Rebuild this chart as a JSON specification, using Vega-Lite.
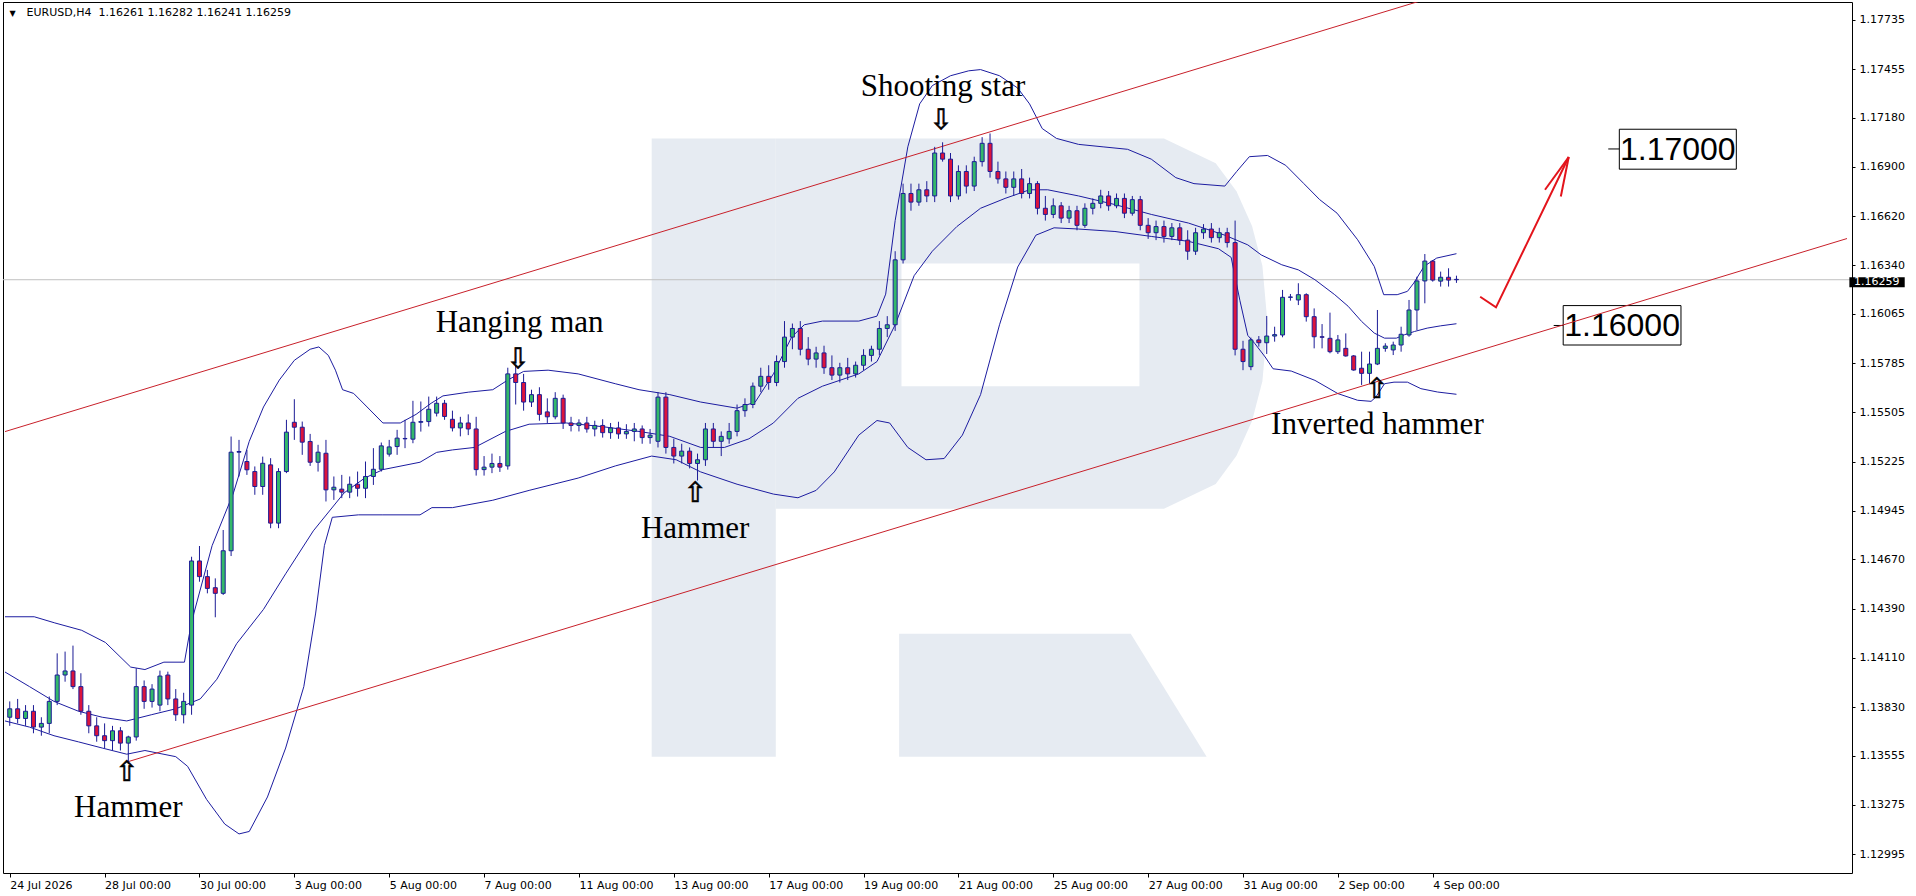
{
"$schema":"https://vega.github.io/schema/vega-lite/v6.json",
"width":1849,"height":871,
"autosize":{"type":"none"},
"padding":{"left":3,"top":2,"right":64,"bottom":23},
"background":"white",
"config":{"view":{"stroke":"#000000","strokeWidth":1},"axis":{"labelFont":"DejaVu Sans","labelFontSize":11,"labelColor":"#000000","tickColor":"#000000","domain":false,"grid":false,"title":null}},
"datasets":{
"ohlc":[
{"i":0,"o":1.13773,"h":1.13863,"l":1.13724,"c":1.13821},
{"i":1,"o":1.13821,"h":1.13877,"l":1.13738,"c":1.13766},
{"i":2,"o":1.13766,"h":1.13842,"l":1.13724,"c":1.13807},
{"i":3,"o":1.13807,"h":1.13842,"l":1.13682,"c":1.13717},
{"i":4,"o":1.13717,"h":1.13773,"l":1.13668,"c":1.13738},
{"i":5,"o":1.13738,"h":1.13891,"l":1.13682,"c":1.13863},
{"i":6,"o":1.13863,"h":1.14136,"l":1.13842,"c":1.14013},
{"i":7,"o":1.14013,"h":1.14146,"l":1.13975,"c":1.14036},
{"i":8,"o":1.14036,"h":1.14180,"l":1.13933,"c":1.13947},
{"i":9,"o":1.13947,"h":1.14023,"l":1.13787,"c":1.13807},
{"i":10,"o":1.13807,"h":1.13842,"l":1.13682,"c":1.13724},
{"i":11,"o":1.13724,"h":1.13773,"l":1.13634,"c":1.13668},
{"i":12,"o":1.13668,"h":1.13738,"l":1.13598,"c":1.13640},
{"i":13,"o":1.13640,"h":1.13724,"l":1.13584,"c":1.13696},
{"i":14,"o":1.13696,"h":1.13717,"l":1.13584,"c":1.13626},
{"i":15,"o":1.13626,"h":1.13668,"l":1.13508,"c":1.13661},
{"i":16,"o":1.13661,"h":1.14051,"l":1.13640,"c":1.13947},
{"i":17,"o":1.13947,"h":1.13982,"l":1.13821,"c":1.13863},
{"i":18,"o":1.13863,"h":1.13961,"l":1.13828,"c":1.13933},
{"i":19,"o":1.13842,"h":1.14038,"l":1.13807,"c":1.14007},
{"i":20,"o":1.14013,"h":1.14032,"l":1.13842,"c":1.13877},
{"i":21,"o":1.13877,"h":1.13933,"l":1.13752,"c":1.13787},
{"i":22,"o":1.13787,"h":1.13912,"l":1.13738,"c":1.13863},
{"i":23,"o":1.13842,"h":1.14685,"l":1.13787,"c":1.14661},
{"i":24,"o":1.14661,"h":1.14746,"l":1.14543,"c":1.14572},
{"i":25,"o":1.14572,"h":1.14610,"l":1.14477,"c":1.14505},
{"i":26,"o":1.14509,"h":1.14562,"l":1.14341,"c":1.14477},
{"i":27,"o":1.14477,"h":1.14837,"l":1.14468,"c":1.14719},
{"i":28,"o":1.14719,"h":1.15368,"l":1.14689,"c":1.15279},
{"i":29,"o":1.15279,"h":1.15349,"l":1.15141,"c":1.15283},
{"i":30,"o":1.15226,"h":1.15292,"l":1.15150,"c":1.15179},
{"i":31,"o":1.15169,"h":1.15198,"l":1.15037,"c":1.15084},
{"i":32,"o":1.15084,"h":1.15254,"l":1.15037,"c":1.15216},
{"i":33,"o":1.15207,"h":1.15245,"l":1.14847,"c":1.14876},
{"i":34,"o":1.14876,"h":1.15188,"l":1.14847,"c":1.15169},
{"i":35,"o":1.15169,"h":1.15463,"l":1.15160,"c":1.15393},
{"i":36,"o":1.15449,"h":1.15580,"l":1.15349,"c":1.15421},
{"i":37,"o":1.15421,"h":1.15453,"l":1.15264,"c":1.15336},
{"i":38,"o":1.15340,"h":1.15383,"l":1.15201,"c":1.15222},
{"i":39,"o":1.15222,"h":1.15321,"l":1.15169,"c":1.15279},
{"i":40,"o":1.15273,"h":1.15349,"l":1.14999,"c":1.15065},
{"i":41,"o":1.15065,"h":1.15141,"l":1.15008,"c":1.15080},
{"i":42,"o":1.15069,"h":1.15150,"l":1.15018,"c":1.15052},
{"i":43,"o":1.15052,"h":1.15141,"l":1.15018,"c":1.15097},
{"i":44,"o":1.15097,"h":1.15169,"l":1.15027,"c":1.15074},
{"i":45,"o":1.15074,"h":1.15226,"l":1.15018,"c":1.15141},
{"i":46,"o":1.15141,"h":1.15302,"l":1.15093,"c":1.15182},
{"i":47,"o":1.15182,"h":1.15334,"l":1.15169,"c":1.15315},
{"i":48,"o":1.15268,"h":1.15349,"l":1.15254,"c":1.15309},
{"i":49,"o":1.15311,"h":1.15406,"l":1.15264,"c":1.15359},
{"i":50,"o":1.15355,"h":1.15463,"l":1.15302,"c":1.15357},
{"i":51,"o":1.15353,"h":1.15571,"l":1.15330,"c":1.15449},
{"i":52,"o":1.15449,"h":1.15567,"l":1.15396,"c":1.15453},
{"i":53,"o":1.15453,"h":1.15595,"l":1.15425,"c":1.15523},
{"i":54,"o":1.15501,"h":1.15595,"l":1.15482,"c":1.15557},
{"i":55,"o":1.15557,"h":1.15576,"l":1.15463,"c":1.15482},
{"i":56,"o":1.15466,"h":1.15515,"l":1.15397,"c":1.15417},
{"i":57,"o":1.15417,"h":1.15480,"l":1.15369,"c":1.15445},
{"i":58,"o":1.15445,"h":1.15494,"l":1.15376,"c":1.15411},
{"i":59,"o":1.15411,"h":1.15480,"l":1.15146,"c":1.15180},
{"i":60,"o":1.15180,"h":1.15257,"l":1.15146,"c":1.15194},
{"i":61,"o":1.15194,"h":1.15271,"l":1.15160,"c":1.15215},
{"i":62,"o":1.15215,"h":1.15257,"l":1.15167,"c":1.15194},
{"i":63,"o":1.15201,"h":1.15759,"l":1.15180,"c":1.15724},
{"i":64,"o":1.15724,"h":1.15773,"l":1.15550,"c":1.15675},
{"i":65,"o":1.15675,"h":1.15724,"l":1.15515,"c":1.15564},
{"i":66,"o":1.15564,"h":1.15634,"l":1.15536,"c":1.15606},
{"i":67,"o":1.15606,"h":1.15648,"l":1.15458,"c":1.15494},
{"i":68,"o":1.15508,"h":1.15585,"l":1.15445,"c":1.15480},
{"i":69,"o":1.15480,"h":1.15620,"l":1.15466,"c":1.15585},
{"i":70,"o":1.15585,"h":1.15606,"l":1.15411,"c":1.15445},
{"i":71,"o":1.15445,"h":1.15480,"l":1.15397,"c":1.15431},
{"i":72,"o":1.15431,"h":1.15466,"l":1.15397,"c":1.15445},
{"i":73,"o":1.15445,"h":1.15480,"l":1.15390,"c":1.15411},
{"i":74,"o":1.15411,"h":1.15458,"l":1.15369,"c":1.15431},
{"i":75,"o":1.15431,"h":1.15466,"l":1.15362,"c":1.15390},
{"i":76,"o":1.15390,"h":1.15445,"l":1.15355,"c":1.15417},
{"i":77,"o":1.15417,"h":1.15452,"l":1.15355,"c":1.15383},
{"i":78,"o":1.15383,"h":1.15438,"l":1.15355,"c":1.15397},
{"i":79,"o":1.15397,"h":1.15445,"l":1.15341,"c":1.15411},
{"i":80,"o":1.15411,"h":1.15431,"l":1.15327,"c":1.15362},
{"i":81,"o":1.15362,"h":1.15411,"l":1.15327,"c":1.15376},
{"i":82,"o":1.15341,"h":1.15620,"l":1.15306,"c":1.15592},
{"i":83,"o":1.15592,"h":1.15620,"l":1.15271,"c":1.15306},
{"i":84,"o":1.15306,"h":1.15355,"l":1.15215,"c":1.15257},
{"i":85,"o":1.15257,"h":1.15327,"l":1.15215,"c":1.15285},
{"i":86,"o":1.15285,"h":1.15306,"l":1.15187,"c":1.15215},
{"i":87,"o":1.15215,"h":1.15271,"l":1.15118,"c":1.15236},
{"i":88,"o":1.15236,"h":1.15445,"l":1.15201,"c":1.15411},
{"i":89,"o":1.15411,"h":1.15445,"l":1.15306,"c":1.15341},
{"i":90,"o":1.15341,"h":1.15397,"l":1.15257,"c":1.15369},
{"i":91,"o":1.15355,"h":1.15445,"l":1.15327,"c":1.15397},
{"i":92,"o":1.15397,"h":1.15550,"l":1.15369,"c":1.15515},
{"i":93,"o":1.15515,"h":1.15585,"l":1.15480,"c":1.15550},
{"i":94,"o":1.15550,"h":1.15675,"l":1.15529,"c":1.15654},
{"i":95,"o":1.15654,"h":1.15759,"l":1.15620,"c":1.15710},
{"i":96,"o":1.15710,"h":1.15773,"l":1.15634,"c":1.15675},
{"i":97,"o":1.15675,"h":1.15829,"l":1.15654,"c":1.15794},
{"i":98,"o":1.15794,"h":1.16024,"l":1.15759,"c":1.15933},
{"i":99,"o":1.15933,"h":1.16010,"l":1.15864,"c":1.15982},
{"i":100,"o":1.15982,"h":1.16024,"l":1.15829,"c":1.15864},
{"i":101,"o":1.15864,"h":1.15933,"l":1.15773,"c":1.15808},
{"i":102,"o":1.15808,"h":1.15878,"l":1.15759,"c":1.15843},
{"i":103,"o":1.15843,"h":1.15884,"l":1.15724,"c":1.15759},
{"i":104,"o":1.15759,"h":1.15829,"l":1.15689,"c":1.15717},
{"i":105,"o":1.15717,"h":1.15787,"l":1.15675,"c":1.15759},
{"i":106,"o":1.15759,"h":1.15815,"l":1.15689,"c":1.15724},
{"i":107,"o":1.15724,"h":1.15794,"l":1.15703,"c":1.15773},
{"i":108,"o":1.15773,"h":1.15864,"l":1.15745,"c":1.15829},
{"i":109,"o":1.15829,"h":1.15884,"l":1.15794,"c":1.15864},
{"i":110,"o":1.15864,"h":1.16024,"l":1.15829,"c":1.15982},
{"i":111,"o":1.15982,"h":1.16052,"l":1.15933,"c":1.16003},
{"i":112,"o":1.16003,"h":1.16421,"l":1.15968,"c":1.16372},
{"i":113,"o":1.16372,"h":1.16805,"l":1.16351,"c":1.16749},
{"i":114,"o":1.16749,"h":1.16805,"l":1.16651,"c":1.16700},
{"i":115,"o":1.16700,"h":1.16805,"l":1.16679,"c":1.16770},
{"i":116,"o":1.16770,"h":1.16819,"l":1.16700,"c":1.16735},
{"i":117,"o":1.16735,"h":1.17014,"l":1.16700,"c":1.16979},
{"i":118,"o":1.16979,"h":1.17040,"l":1.16930,"c":1.16944},
{"i":119,"o":1.16944,"h":1.16979,"l":1.16700,"c":1.16735},
{"i":120,"o":1.16735,"h":1.16909,"l":1.16714,"c":1.16874},
{"i":121,"o":1.16874,"h":1.16909,"l":1.16749,"c":1.16791},
{"i":122,"o":1.16791,"h":1.16958,"l":1.16763,"c":1.16930},
{"i":123,"o":1.16930,"h":1.17069,"l":1.16902,"c":1.17034},
{"i":124,"o":1.17034,"h":1.17090,"l":1.16839,"c":1.16874},
{"i":125,"o":1.16874,"h":1.16930,"l":1.16805,"c":1.16832},
{"i":126,"o":1.16832,"h":1.16874,"l":1.16749,"c":1.16784},
{"i":127,"o":1.16784,"h":1.16874,"l":1.16735,"c":1.16832},
{"i":128,"o":1.16832,"h":1.16888,"l":1.16721,"c":1.16749},
{"i":129,"o":1.16749,"h":1.16839,"l":1.16721,"c":1.16805},
{"i":130,"o":1.16805,"h":1.16819,"l":1.16630,"c":1.16665},
{"i":131,"o":1.16665,"h":1.16735,"l":1.16595,"c":1.16630},
{"i":132,"o":1.16630,"h":1.16721,"l":1.16609,"c":1.16679},
{"i":133,"o":1.16679,"h":1.16700,"l":1.16581,"c":1.16609},
{"i":134,"o":1.16609,"h":1.16679,"l":1.16581,"c":1.16651},
{"i":135,"o":1.16651,"h":1.16679,"l":1.16540,"c":1.16568},
{"i":136,"o":1.16568,"h":1.16693,"l":1.16554,"c":1.16665},
{"i":137,"o":1.16665,"h":1.16721,"l":1.16630,"c":1.16693},
{"i":138,"o":1.16693,"h":1.16770,"l":1.16665,"c":1.16735},
{"i":139,"o":1.16735,"h":1.16763,"l":1.16651,"c":1.16679},
{"i":140,"o":1.16679,"h":1.16749,"l":1.16665,"c":1.16721},
{"i":141,"o":1.16721,"h":1.16749,"l":1.16609,"c":1.16637},
{"i":142,"o":1.16637,"h":1.16735,"l":1.16623,"c":1.16714},
{"i":143,"o":1.16714,"h":1.16735,"l":1.16540,"c":1.16568},
{"i":144,"o":1.16568,"h":1.16609,"l":1.16491,"c":1.16526},
{"i":145,"o":1.16526,"h":1.16595,"l":1.16484,"c":1.16561},
{"i":146,"o":1.16561,"h":1.16595,"l":1.16470,"c":1.16505},
{"i":147,"o":1.16505,"h":1.16581,"l":1.16484,"c":1.16554},
{"i":148,"o":1.16554,"h":1.16581,"l":1.16456,"c":1.16484},
{"i":149,"o":1.16484,"h":1.16540,"l":1.16372,"c":1.16421},
{"i":150,"o":1.16421,"h":1.16554,"l":1.16400,"c":1.16526},
{"i":151,"o":1.16526,"h":1.16575,"l":1.16491,"c":1.16547},
{"i":152,"o":1.16547,"h":1.16581,"l":1.16470,"c":1.16498},
{"i":153,"o":1.16498,"h":1.16554,"l":1.16470,"c":1.16526},
{"i":154,"o":1.16526,"h":1.16554,"l":1.16442,"c":1.16470},
{"i":155,"o":1.16470,"h":1.16595,"l":1.15829,"c":1.15864},
{"i":156,"o":1.15864,"h":1.15912,"l":1.15745,"c":1.15794},
{"i":157,"o":1.15765,"h":1.15930,"l":1.15745,"c":1.15917},
{"i":158,"o":1.15917,"h":1.15939,"l":1.15879,"c":1.15901},
{"i":159,"o":1.15901,"h":1.16053,"l":1.15837,"c":1.15939},
{"i":160,"o":1.15939,"h":1.15992,"l":1.15907,"c":1.15947},
{"i":161,"o":1.15945,"h":1.16201,"l":1.15932,"c":1.16159},
{"i":162,"o":1.16159,"h":1.16178,"l":1.16140,"c":1.16161},
{"i":163,"o":1.16144,"h":1.16239,"l":1.16115,"c":1.16174},
{"i":164,"o":1.16174,"h":1.16182,"l":1.16021,"c":1.16049},
{"i":165,"o":1.16049,"h":1.16096,"l":1.15869,"c":1.15935},
{"i":166,"o":1.15935,"h":1.16007,"l":1.15869,"c":1.15932},
{"i":167,"o":1.15926,"h":1.16072,"l":1.15841,"c":1.15850},
{"i":168,"o":1.15850,"h":1.15945,"l":1.15837,"c":1.15917},
{"i":169,"o":1.15869,"h":1.15954,"l":1.15822,"c":1.15826},
{"i":170,"o":1.15826,"h":1.15831,"l":1.15742,"c":1.15746},
{"i":171,"o":1.15756,"h":1.15850,"l":1.15661,"c":1.15727},
{"i":172,"o":1.15727,"h":1.15850,"l":1.15670,"c":1.15780},
{"i":173,"o":1.15780,"h":1.16087,"l":1.15774,"c":1.15869},
{"i":174,"o":1.15869,"h":1.15898,"l":1.15850,"c":1.15882},
{"i":175,"o":1.15860,"h":1.15907,"l":1.15831,"c":1.15888},
{"i":176,"o":1.15888,"h":1.15992,"l":1.15850,"c":1.15949},
{"i":177,"o":1.15945,"h":1.16144,"l":1.15935,"c":1.16087},
{"i":178,"o":1.16087,"h":1.16276,"l":1.15973,"c":1.16252},
{"i":179,"o":1.16252,"h":1.16405,"l":1.16125,"c":1.16365},
{"i":180,"o":1.16365,"h":1.16371,"l":1.16248,"c":1.16257},
{"i":181,"o":1.16251,"h":1.16305,"l":1.16220,"c":1.16273},
{"i":182,"o":1.16273,"h":1.16324,"l":1.16220,"c":1.16257},
{"i":183,"o":1.16261,"h":1.16282,"l":1.16241,"c":1.16259}
],
"bb":[
{"b":"u","i":-0.6,"p":1.14344},{"b":"u","i":3.1,"p":1.14344},{"b":"u","i":5.7,"p":1.14309},{"b":"u","i":9.1,"p":1.14267},{"b":"u","i":12.1,"p":1.14198},{"b":"u","i":15.3,"p":1.14058},{"b":"u","i":17.1,"p":1.14044},{"b":"u","i":19.5,"p":1.14086},{"b":"u","i":22.1,"p":1.14086},{"b":"u","i":22.7,"p":1.14240},{"b":"u","i":23.3,"p":1.14365},{"b":"u","i":25.6,"p":1.14748},{"b":"u","i":28.3,"p":1.15048},{"b":"u","i":30.3,"p":1.15341},{"b":"u","i":32.1,"p":1.15536},{"b":"u","i":34.1,"p":1.15689},{"b":"u","i":36.0,"p":1.15801},{"b":"u","i":38.0,"p":1.15864},{"b":"u","i":39.1,"p":1.15877},{"b":"u","i":40.3,"p":1.15829},{"b":"u","i":41.2,"p":1.15745},{"b":"u","i":42.1,"p":1.15634},{"b":"u","i":43.5,"p":1.15613},{"b":"u","i":45.2,"p":1.15536},{"b":"u","i":47.2,"p":1.15445},{"b":"u","i":49.4,"p":1.15445},{"b":"u","i":51.4,"p":1.15494},{"b":"u","i":53.3,"p":1.15557},{"b":"u","i":54.8,"p":1.15599},{"b":"u","i":58.0,"p":1.15620},{"b":"u","i":61.1,"p":1.15634},{"b":"u","i":63.0,"p":1.15689},{"b":"u","i":65.0,"p":1.15738},{"b":"u","i":68.1,"p":1.15745},{"b":"u","i":71.9,"p":1.15724},{"b":"u","i":76.6,"p":1.15668},{"b":"u","i":79.6,"p":1.15634},{"b":"u","i":83.5,"p":1.15606},{"b":"u","i":87.4,"p":1.15564},{"b":"u","i":92.0,"p":1.15529},{"b":"u","i":94.3,"p":1.15564},{"b":"u","i":96.6,"p":1.15724},{"b":"u","i":98.9,"p":1.15933},{"b":"u","i":100.5,"p":1.16003},{"b":"u","i":102.8,"p":1.16024},{"b":"u","i":107.4,"p":1.16024},{"b":"u","i":109.7,"p":1.16052},{"b":"u","i":110.8,"p":1.16177},{"b":"u","i":112.0,"p":1.16595},{"b":"u","i":113.6,"p":1.17014},{"b":"u","i":115.1,"p":1.17258},{"b":"u","i":116.7,"p":1.17362},{"b":"u","i":119.0,"p":1.17418},{"b":"u","i":121.3,"p":1.17446},{"b":"u","i":122.8,"p":1.17453},{"b":"u","i":125.2,"p":1.17418},{"b":"u","i":127.5,"p":1.17348},{"b":"u","i":129.0,"p":1.17258},{"b":"u","i":130.6,"p":1.17118},{"b":"u","i":132.4,"p":1.17062},{"b":"u","i":135.2,"p":1.17028},{"b":"u","i":138.3,"p":1.17014},{"b":"u","i":141.4,"p":1.17000},{"b":"u","i":144.4,"p":1.16944},{"b":"u","i":147.5,"p":1.16839},{"b":"u","i":149.8,"p":1.16805},{"b":"u","i":153.7,"p":1.16791},{"b":"u","i":155.2,"p":1.16874},{"b":"u","i":156.8,"p":1.16958},{"b":"u","i":159.1,"p":1.16965},{"b":"u","i":161.4,"p":1.16909},{"b":"u","i":163.7,"p":1.16805},{"b":"u","i":165.7,"p":1.16714},{"b":"u","i":167.9,"p":1.16637},{"b":"u","i":170.5,"p":1.16486},{"b":"u","i":172.6,"p":1.16335},{"b":"u","i":173.8,"p":1.16174},{"b":"u","i":175.5,"p":1.16174},{"b":"u","i":176.8,"p":1.16193},{"b":"u","i":177.6,"p":1.16240},{"b":"u","i":178.9,"p":1.16335},{"b":"u","i":180.5,"p":1.16382},{"b":"u","i":183.0,"p":1.16407},
{"b":"m","i":-0.6,"p":1.14030},{"b":"m","i":2.5,"p":1.13947},{"b":"m","i":5.6,"p":1.13863},{"b":"m","i":8.7,"p":1.13807},{"b":"m","i":11.7,"p":1.13773},{"b":"m","i":14.8,"p":1.13752},{"b":"m","i":17.9,"p":1.13787},{"b":"m","i":21.0,"p":1.13821},{"b":"m","i":24.1,"p":1.13877},{"b":"m","i":26.2,"p":1.13989},{"b":"m","i":28.7,"p":1.14191},{"b":"m","i":32.1,"p":1.14386},{"b":"m","i":34.9,"p":1.14588},{"b":"m","i":38.4,"p":1.14832},{"b":"m","i":42.3,"p":1.15048},{"b":"m","i":44.9,"p":1.15132},{"b":"m","i":47.2,"p":1.15180},{"b":"m","i":51.9,"p":1.15222},{"b":"m","i":54.0,"p":1.15278},{"b":"m","i":56.0,"p":1.15292},{"b":"m","i":58.8,"p":1.15306},{"b":"m","i":62.7,"p":1.15397},{"b":"m","i":65.7,"p":1.15438},{"b":"m","i":70.4,"p":1.15445},{"b":"m","i":75.0,"p":1.15424},{"b":"m","i":79.6,"p":1.15397},{"b":"m","i":83.5,"p":1.15369},{"b":"m","i":87.4,"p":1.15306},{"b":"m","i":90.4,"p":1.15306},{"b":"m","i":93.5,"p":1.15355},{"b":"m","i":96.6,"p":1.15445},{"b":"m","i":99.7,"p":1.15585},{"b":"m","i":102.8,"p":1.15654},{"b":"m","i":107.4,"p":1.15724},{"b":"m","i":109.7,"p":1.15794},{"b":"m","i":112.0,"p":1.16003},{"b":"m","i":114.4,"p":1.16282},{"b":"m","i":116.7,"p":1.16421},{"b":"m","i":119.8,"p":1.16561},{"b":"m","i":122.8,"p":1.16665},{"b":"m","i":125.9,"p":1.16721},{"b":"m","i":129.0,"p":1.16770},{"b":"m","i":131.3,"p":1.16770},{"b":"m","i":135.2,"p":1.16735},{"b":"m","i":139.8,"p":1.16686},{"b":"m","i":144.4,"p":1.16630},{"b":"m","i":149.1,"p":1.16581},{"b":"m","i":153.7,"p":1.16512},{"b":"m","i":156.6,"p":1.16457},{"b":"m","i":158.3,"p":1.16400},{"b":"m","i":160.9,"p":1.16344},{"b":"m","i":163.0,"p":1.16315},{"b":"m","i":165.1,"p":1.16259},{"b":"m","i":167.6,"p":1.16174},{"b":"m","i":169.3,"p":1.16108},{"b":"m","i":171.0,"p":1.16022},{"b":"m","i":172.6,"p":1.15956},{"b":"m","i":173.9,"p":1.15927},{"b":"m","i":175.4,"p":1.15927},{"b":"m","i":176.4,"p":1.15946},{"b":"m","i":177.7,"p":1.15965},{"b":"m","i":179.3,"p":1.15984},{"b":"m","i":181.0,"p":1.15997},{"b":"m","i":183.0,"p":1.16009},
{"b":"l","i":-0.6,"p":1.13752},{"b":"l","i":2.5,"p":1.13717},{"b":"l","i":5.6,"p":1.13668},{"b":"l","i":8.7,"p":1.13633},{"b":"l","i":11.7,"p":1.13598},{"b":"l","i":14.8,"p":1.13563},{"b":"l","i":17.1,"p":1.13584},{"b":"l","i":21.0,"p":1.13549},{"b":"l","i":22.5,"p":1.13494},{"b":"l","i":24.9,"p":1.13306},{"b":"l","i":27.2,"p":1.13166},{"b":"l","i":29.0,"p":1.13110},{"b":"l","i":30.3,"p":1.13124},{"b":"l","i":32.6,"p":1.13320},{"b":"l","i":34.9,"p":1.13598},{"b":"l","i":37.2,"p":1.13947},{"b":"l","i":38.7,"p":1.14365},{"b":"l","i":39.8,"p":1.14748},{"b":"l","i":40.8,"p":1.14909},{"b":"l","i":44.1,"p":1.14923},{"b":"l","i":47.2,"p":1.14923},{"b":"l","i":51.9,"p":1.14923},{"b":"l","i":53.4,"p":1.14964},{"b":"l","i":56.0,"p":1.14964},{"b":"l","i":61.1,"p":1.15006},{"b":"l","i":65.7,"p":1.15062},{"b":"l","i":71.9,"p":1.15132},{"b":"l","i":76.6,"p":1.15201},{"b":"l","i":81.2,"p":1.15257},{"b":"l","i":84.3,"p":1.15236},{"b":"l","i":87.4,"p":1.15167},{"b":"l","i":92.0,"p":1.15097},{"b":"l","i":96.6,"p":1.15041},{"b":"l","i":99.7,"p":1.15020},{"b":"l","i":102.0,"p":1.15062},{"b":"l","i":104.3,"p":1.15167},{"b":"l","i":107.4,"p":1.15376},{"b":"l","i":109.7,"p":1.15459},{"b":"l","i":111.3,"p":1.15445},{"b":"l","i":113.6,"p":1.15306},{"b":"l","i":115.9,"p":1.15236},{"b":"l","i":118.2,"p":1.15243},{"b":"l","i":120.5,"p":1.15376},{"b":"l","i":122.8,"p":1.15606},{"b":"l","i":125.2,"p":1.16003},{"b":"l","i":127.5,"p":1.16331},{"b":"l","i":129.8,"p":1.16512},{"b":"l","i":132.1,"p":1.16554},{"b":"l","i":135.2,"p":1.16547},{"b":"l","i":139.8,"p":1.16533},{"b":"l","i":144.4,"p":1.16505},{"b":"l","i":149.1,"p":1.16477},{"b":"l","i":152.9,"p":1.16435},{"b":"l","i":154.5,"p":1.16386},{"b":"l","i":155.6,"p":1.16142},{"b":"l","i":156.6,"p":1.15943},{"b":"l","i":157.5,"p":1.15896},{"b":"l","i":158.8,"p":1.15820},{"b":"l","i":159.8,"p":1.15753},{"b":"l","i":162.1,"p":1.15740},{"b":"l","i":165.1,"p":1.15687},{"b":"l","i":168.0,"p":1.15612},{"b":"l","i":170.5,"p":1.15574},{"b":"l","i":172.2,"p":1.15568},{"b":"l","i":172.8,"p":1.15592},{"b":"l","i":173.9,"p":1.15668},{"b":"l","i":175.1,"p":1.15677},{"b":"l","i":176.8,"p":1.15677},{"b":"l","i":178.5,"p":1.15640},{"b":"l","i":180.6,"p":1.15621},{"b":"l","i":183.0,"p":1.15608}
]
},
"layer":[
{"data":{"values":[{"x1":81.2,"x2":96.9,"y1":1.13549,"y2":1.17062}]},
 "mark":{"type":"rect","color":"#e6ebf2"},
 "encoding":{
  "x":{"field":"x1","type":"quantitative","title":null,"scale":{"domain":[-0.22,232.4],"nice":false,"zero":false},
   "axis":{"orient":"bottom","values":[0,12,24,36,48,60,72,84,96,108,120,132,144,156,168,180],
    "labelExpr":"['24 Jul 2026','28 Jul 00:00','30 Jul 00:00','3 Aug 00:00','5 Aug 00:00','7 Aug 00:00','11 Aug 00:00','13 Aug 00:00','17 Aug 00:00','19 Aug 00:00','21 Aug 00:00','25 Aug 00:00','27 Aug 00:00','31 Aug 00:00','2 Sep 00:00','4 Sep 00:00'][round(datum.value/12)]",
    "tickSize":4,"labelPadding":2,"labelAlign":"left","labelDx":1,"labelBaseline":"top","labelFlush":false,"labelOverlap":false,"domain":false,"grid":false}},
  "x2":{"field":"x2"},
  "y":{"field":"y1","type":"quantitative","title":null,"scale":{"domain":[1.12888,1.17837],"nice":false,"zero":false},
   "axis":{"orient":"right","values":[1.12995,1.13275,1.13555,1.1383,1.1411,1.1439,1.1467,1.14945,1.15225,1.15505,1.15785,1.16065,1.1634,1.1662,1.169,1.1718,1.17455,1.17735],
    "format":".5f","tickSize":3,"labelPadding":4,"labelOverlap":false,"labelBound":false,"labelFlush":false,"labelBaseline":"middle","domain":false,"grid":false}},
  "y2":{"field":"y2"}}},
{"data":{"values":[
  {"x":96.9,"t":1.17062,"b":1.14958},{"x":146.0,"t":1.17062,"b":1.14958},{"x":152.55,"t":1.16921,"b":1.15099},
  {"x":155.17,"t":1.16761,"b":1.15259},{"x":157.14,"t":1.16564,"b":1.15456},{"x":158.45,"t":1.16338,"b":1.15682},{"x":159.1,"t":1.1601,"b":1.1601}]},
 "mark":{"type":"area","color":"#e6ebf2","orient":"vertical"},
 "encoding":{"x":{"field":"x","type":"quantitative","title":null},"y":{"field":"t","type":"quantitative","title":null},"y2":{"field":"b"}}},
{"data":{"values":[{"x1":112.8,"x2":142.9,"y1":1.15654,"y2":1.16351}]},
 "mark":{"type":"rect","color":"#ffffff"},
 "encoding":{"x":{"field":"x1","type":"quantitative","title":null},"x2":{"field":"x2"},"y":{"field":"y1","type":"quantitative","title":null},"y2":{"field":"y2"}}},
{"data":{"values":[{"y":1.14247,"x1":112.5,"x2":141.8},{"y":1.13549,"x1":112.5,"x2":151.4}]},
 "mark":{"type":"area","color":"#e6ebf2","orient":"horizontal"},
 "encoding":{"y":{"field":"y","type":"quantitative","title":null},"x":{"field":"x1","type":"quantitative","title":null},"x2":{"field":"x2"}}},
{"data":{"values":[{"p":1.16259}]},
 "mark":{"type":"rule","color":"#c0c0c0","strokeWidth":1},
 "encoding":{"y":{"field":"p","type":"quantitative","title":null}}},
{"data":{"name":"bb"},
 "mark":{"type":"line","color":"#1c1ca0","strokeWidth":1,"clip":true},
 "encoding":{"x":{"field":"i","type":"quantitative","title":null},"y":{"field":"p","type":"quantitative","title":null},"detail":{"field":"b"}}},
{"data":{"values":[{"x1":203.6,"x2":218.4,"y1":1.16887,"y2":1.17114},{"x1":196.5,"x2":211.4,"y1":1.15888,"y2":1.16112}]},
 "mark":{"type":"rect","fill":"#ffffff","stroke":"#000000","strokeWidth":1},
 "encoding":{"x":{"field":"x1","type":"quantitative","title":null},"x2":{"field":"x2"},"y":{"field":"y1","type":"quantitative","title":null},"y2":{"field":"y2"}}},
{"data":{"values":[{"i":211.0,"p":1.17,"t":"1.17000"},{"i":203.95,"p":1.16,"t":"1.16000"}]},
 "mark":{"type":"text","font":"Liberation Sans","fontSize":32,"align":"center","baseline":"middle","color":"#000000","dy":1},
 "encoding":{"x":{"field":"i","type":"quantitative","title":null},"y":{"field":"p","type":"quantitative","title":null},"text":{"field":"t"}}},
{"data":{"values":[{"x1":202.2,"x2":203.6,"p":1.17002},{"x1":195.3,"x2":196.5,"p":1.15999}]},
 "mark":{"type":"rule","color":"#000000","strokeWidth":1},
 "encoding":{"x":{"field":"x1","type":"quantitative","title":null},"x2":{"field":"x2"},"y":{"field":"p","type":"quantitative","title":null}}},
{"data":{"values":[{"t":"a","i":-0.6,"p":1.15396},{"t":"a","i":232.4,"p":1.18581},{"t":"b","i":15,"p":1.13521},{"t":"b","i":232.4,"p":1.16493}]},
 "mark":{"type":"line","color":"#c8202a","strokeWidth":1,"clip":true},
 "encoding":{"x":{"field":"i","type":"quantitative","title":null},"y":{"field":"p","type":"quantitative","title":null},"detail":{"field":"t"}}},
{"data":{"name":"ohlc"},
 "mark":{"type":"rule","color":"#1c1c96","strokeWidth":1},
 "encoding":{"x":{"field":"i","type":"quantitative","title":null},"y":{"field":"l","type":"quantitative","title":null},"y2":{"field":"h"}}},
{"data":{"name":"ohlc"},
 "mark":{"type":"bar","size":4,"stroke":"#1c1c96","strokeWidth":1},
 "encoding":{"x":{"field":"i","type":"quantitative","title":null},"y":{"field":"o","type":"quantitative","title":null},"y2":{"field":"c"},
  "fill":{"condition":{"test":"datum.c >= datum.o","value":"#34b86a"},"value":"#dc143c"}}},
{"data":{"values":[{"i":118.05,"p":1.17305,"t":"Shooting star"},{"i":64.5,"p":1.15960,"t":"Hanging man"},{"i":86.7,"p":1.14790,"t":"Hammer"},{"i":15.0,"p":1.13205,"t":"Hammer"},{"i":173.0,"p":1.15380,"t":"Inverted hammer"}]},
 "mark":{"type":"text","font":"Liberation Serif","fontSize":31,"align":"center","baseline":"alphabetic","color":"#000000"},
 "encoding":{"x":{"field":"i","type":"quantitative","title":null},"y":{"field":"p","type":"quantitative","title":null},"text":{"field":"t"}}},
{"data":{"values":[{"i":117.8,"p":1.17160,"t":"⇩"},{"i":64.3,"p":1.15805,"t":"⇩"},{"i":86.7,"p":1.15040,"t":"⇧"},{"i":14.8,"p":1.13455,"t":"⇧"},{"i":172.9,"p":1.15630,"t":"⇧"}]},
 "mark":{"type":"text","font":"DejaVu Sans","fontSize":28,"align":"center","baseline":"middle","color":"#000000","stroke":"#000000","strokeWidth":0.6},
 "encoding":{"x":{"field":"i","type":"quantitative","title":null},"y":{"field":"p","type":"quantitative","title":null},"text":{"field":"t"}}},
{"data":{"values":[{"s":"a","k":1,"i":186.0,"p":1.16162},{"s":"a","k":2,"i":188.0,"p":1.16102},{"s":"a","k":3,"i":197.2,"p":1.16956},{"s":"b","k":1,"i":197.2,"p":1.16956},{"s":"b","k":2,"i":194.2,"p":1.1677},{"s":"c","k":1,"i":197.2,"p":1.16956},{"s":"c","k":2,"i":196.2,"p":1.16732}]},
 "mark":{"type":"line","color":"#e3141c","strokeWidth":2},
 "encoding":{"x":{"field":"i","type":"quantitative","title":null},"y":{"field":"p","type":"quantitative","title":null},"detail":{"field":"s"},"order":{"field":"k"}}},
{"data":{"values":[{"i":2.13,"p":1.17773,"t":"EURUSD,H4\u00a0 1.16261 1.16282 1.16241 1.16259"}]},
 "mark":{"type":"text","font":"DejaVu Sans","fontSize":11,"align":"left","baseline":"middle","color":"#000000"},
 "encoding":{"x":{"field":"i","type":"quantitative","title":null},"y":{"field":"p","type":"quantitative","title":null},"text":{"field":"t"}}},
{"data":{"values":[{"i":0.35,"p":1.17770,"t":"▼"}]},
 "mark":{"type":"text","font":"DejaVu Sans","fontSize":8,"align":"center","baseline":"middle","color":"#000000"},
 "encoding":{"x":{"field":"i","type":"quantitative","title":null},"y":{"field":"p","type":"quantitative","title":null},"text":{"field":"t"}}},
{"data":{"values":[{"x1":232.7,"x2":239.7,"y1":1.16216,"y2":1.16273}]},
 "mark":{"type":"rect","color":"#000000","clip":false},
 "encoding":{"x":{"field":"x1","type":"quantitative","title":null},"x2":{"field":"x2"},"y":{"field":"y1","type":"quantitative","title":null},"y2":{"field":"y2"}}},
{"data":{"values":[{"i":233.3,"p":1.16245,"t":"1.16259"}]},
 "mark":{"type":"text","font":"DejaVu Sans","fontSize":11,"align":"left","baseline":"middle","color":"#ffffff","clip":false},
 "encoding":{"x":{"field":"i","type":"quantitative","title":null},"y":{"field":"p","type":"quantitative","title":null},"text":{"field":"t"}}}
]
}
